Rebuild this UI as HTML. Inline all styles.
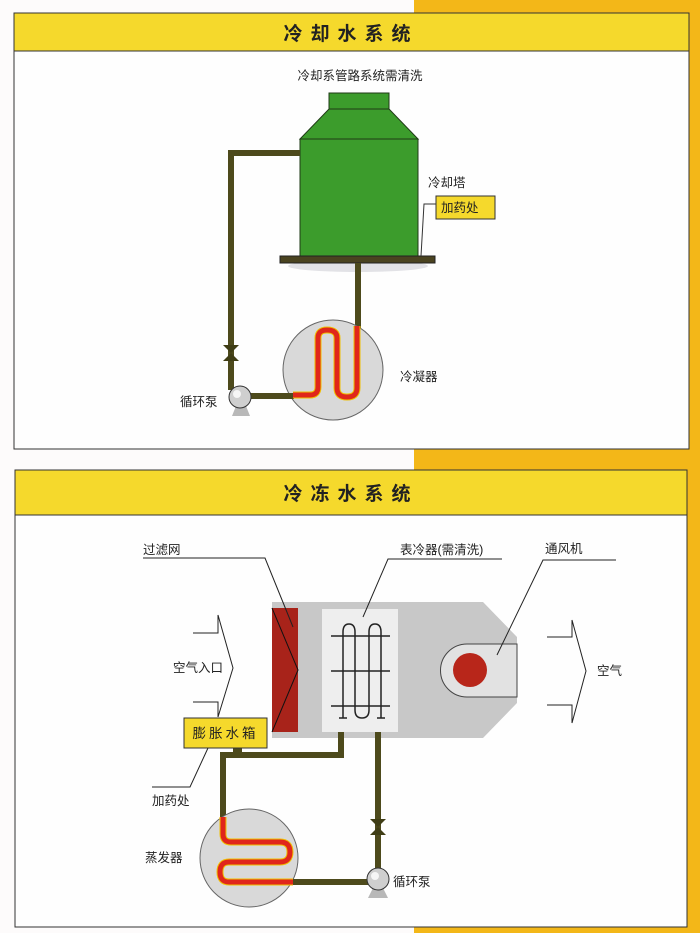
<!DOCTYPE html>
<html><head><meta charset="utf-8"><style>
html,body{margin:0;padding:0;background:#fff;}
svg{display:block;}
text{font-family:"Liberation Sans","Noto Sans CJK SC",sans-serif;fill:#222;}
</style></head><body>
<svg width="700" height="933" viewBox="0 0 700 933" xmlns="http://www.w3.org/2000/svg">
<rect x="0" y="0" width="700" height="933" fill="#fdfbfb"/>
<rect x="414" y="0" width="286" height="933" fill="#f3b718"/>
<!-- Panel 1 -->
<rect x="14" y="13" width="675" height="436" fill="#fefefe" stroke="#333" stroke-width="1"/>
<rect x="14" y="13" width="675" height="38" fill="#f5d92c" stroke="#333" stroke-width="1"/>
<text x="351" y="40" font-size="19" font-weight="bold" text-anchor="middle" letter-spacing="8">冷却水系统</text>
<text x="360" y="80" font-size="12.5" text-anchor="middle">冷却系管路系统需清洗</text>
<!-- tower -->
<ellipse cx="358" cy="266" rx="70" ry="6" fill="#e2e2e6"/>
<rect x="329" y="93" width="60" height="16" fill="#3c9c2c" stroke="#1f3a16"/>
<polygon points="329,109 389,109 418,139 300,139" fill="#3c9c2c" stroke="#1f3a16"/>
<rect x="300" y="139" width="118" height="117" fill="#3c9c2c" stroke="#1f3a16"/>
<rect x="280" y="256" width="155" height="7" fill="#4a4320" stroke="#222"/>
<!-- pipes -->
<polyline points="300,153 231,153 231,390" fill="none" stroke="#4d4a1c" stroke-width="6"/>
<line x1="358" y1="263" x2="358" y2="330" stroke="#4d4a1c" stroke-width="6"/>
<circle cx="333" cy="370" r="50" fill="#d9d9d9" stroke="#666"/>
<line x1="248" y1="396" x2="294" y2="396" stroke="#4d4a1c" stroke-width="6"/>
<path d="M293 395 H310 Q318 395 318 387 V338 Q318 330 327 330 Q337 330 337 338 V388 Q337 397 347 397 Q357 397 357 388 V326" fill="none" stroke="#f0c000" stroke-width="7"/>
<path d="M293 395 H310 Q318 395 318 387 V338 Q318 330 327 330 Q337 330 337 338 V388 Q337 397 347 397 Q357 397 357 388 V326" fill="none" stroke="#e0261b" stroke-width="5"/>
<polygon points="223,345 239,345 231,353" fill="#3f3d15"/>
<polygon points="223,361 239,361 231,353" fill="#3f3d15"/>
<polygon points="232,416 250,416 246,406 236,406" fill="#b8b8b8"/>
<circle cx="240" cy="397" r="11" fill="#cfcfcf" stroke="#333"/>
<circle cx="237" cy="394" r="4" fill="#fff" opacity="0.8"/>
<text x="180" y="406" font-size="12.5">循环泵</text>
<text x="400" y="381" font-size="12.5">冷凝器</text>
<text x="428" y="187" font-size="12.5">冷却塔</text>
<polyline points="436,204 424,204 421,256" fill="none" stroke="#333"/>
<rect x="436" y="196" width="59" height="23" fill="#f5d92c" stroke="#333"/>
<text x="441" y="212" font-size="12.5">加药处</text>
<!-- Panel 2 -->
<rect x="15" y="470" width="672" height="457" fill="#fefefe" stroke="#333" stroke-width="1"/>
<rect x="15" y="470" width="672" height="45" fill="#f5d92c" stroke="#333" stroke-width="1"/>
<text x="351" y="500" font-size="19" font-weight="bold" text-anchor="middle" letter-spacing="8">冷冻水系统</text>
<!-- AHU -->
<polygon points="272,602 483,602 517,637 517,703 483,738 272,738" fill="#c8c8c8"/>
<rect x="272" y="608" width="26" height="124" fill="#a8231a"/>
<polyline points="272,608 298,670 272,732" fill="none" stroke="#111"/>
<rect x="322" y="609" width="76" height="123" fill="#eeeeee"/>
<g stroke="#222" stroke-width="1.5" fill="none">
<line x1="331" y1="636" x2="390" y2="636"/><line x1="331" y1="671" x2="390" y2="671"/><line x1="331" y1="706" x2="390" y2="706"/>
<path d="M343 718 V632 Q343 624 349 624 Q355 624 355 632 V710 Q355 718 362 718 Q369 718 369 710 V632 Q369 624 375 624 Q381 624 381 632 V718"/>
<line x1="339" y1="718" x2="347" y2="718"/><line x1="377" y1="718" x2="385" y2="718"/>
</g>
<path d="M517 644 H467 A26.5 26.5 0 0 0 467 697 H517 Z" fill="#e2e2e2" stroke="#444"/>
<circle cx="470" cy="670" r="17" fill="#b8261a"/>
<!-- labels & leaders -->
<g stroke="#222" fill="none">
<polyline points="143,558 265,558 293,627"/>
<polyline points="502,559 388,559 363,617"/>
<polyline points="616,560 543,560 497,655"/>
<path d="M193 633 H218 V615 L233 668 L218 717 V702 H193"/>
<path d="M547 637 H572 V620 L586 671 L572 723 V705 H547"/>
<polyline points="152,787 190,787 208,748"/>
</g>
<text x="143" y="554" font-size="12.5">过滤网</text>
<text x="400" y="554" font-size="12.5">表冷器(需清洗)</text>
<text x="545" y="553" font-size="12.5">通风机</text>
<text x="173" y="672" font-size="12.5">空气入口</text>
<text x="597" y="675" font-size="12.5">空气</text>
<text x="152" y="805" font-size="12.5">加药处</text>
<text x="145" y="862" font-size="12.5">蒸发器</text>
<text x="393" y="886" font-size="12.5">循环泵</text>
<!-- pipes -->
<polyline points="341,732 341,755 223,755 223,820" fill="none" stroke="#4d4a1c" stroke-width="6"/>
<rect x="233" y="747" width="9" height="8" fill="#4d4a1c"/>
<line x1="378" y1="732" x2="378" y2="870" stroke="#4d4a1c" stroke-width="6"/>
<circle cx="249" cy="858" r="49" fill="#d9d9d9" stroke="#666"/>
<line x1="292" y1="882" x2="368" y2="882" stroke="#4d4a1c" stroke-width="6"/>
<path d="M223 817 V834 Q223 842 231 842 H280 Q290 842 290 852 Q290 862 280 862 H229 Q220 862 220 872 Q220 882 229 882 H293" fill="none" stroke="#f0c000" stroke-width="7"/>
<path d="M223 817 V834 Q223 842 231 842 H280 Q290 842 290 852 Q290 862 280 862 H229 Q220 862 220 872 Q220 882 229 882 H293" fill="none" stroke="#e0261b" stroke-width="5"/>
<polygon points="370,819 386,819 378,827" fill="#3f3d15"/>
<polygon points="370,835 386,835 378,827" fill="#3f3d15"/>
<polygon points="368,898 388,898 383,888 373,888" fill="#b8b8b8"/>
<circle cx="378" cy="879" r="11" fill="#cfcfcf" stroke="#333"/>
<circle cx="375" cy="876" r="4" fill="#fff" opacity="0.8"/>
<rect x="184" y="718" width="83" height="30" fill="#f5d92c" stroke="#333"/>
<text x="225.5" y="738" font-size="13.5" text-anchor="middle" letter-spacing="3">膨胀水箱</text>
</svg>
</body></html>
